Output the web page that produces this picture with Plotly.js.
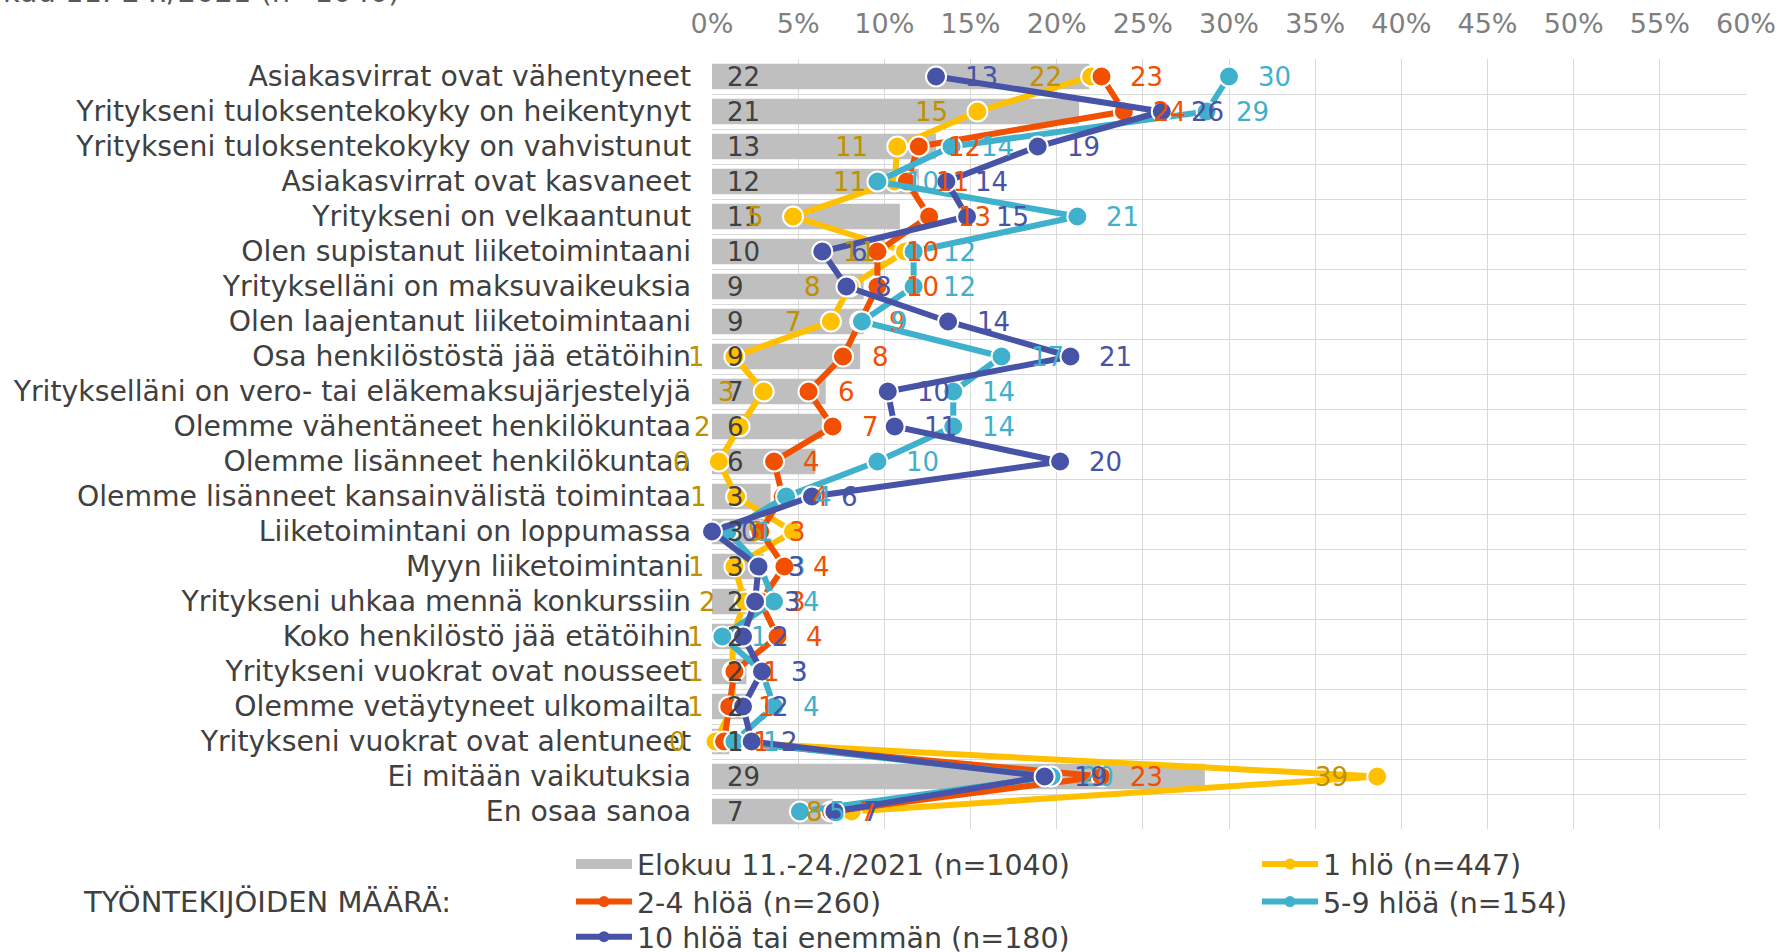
<!DOCTYPE html>
<html><head><meta charset="utf-8">
<script src="https://cdn.plot.ly/plotly-3.0.1.min.js"></script>
<style>html,body{margin:0;padding:0;background:#fff}#chart{width:1780px;height:952px}</style>
</head><body><div id="chart"></div>
<script>
const categories = [
  "Asiakasvirrat ovat vähentyneet",
  "Yritykseni tuloksentekokyky on heikentynyt",
  "Yritykseni tuloksentekokyky on vahvistunut",
  "Asiakasvirrat ovat kasvaneet",
  "Yritykseni on velkaantunut",
  "Olen supistanut liiketoimintaani",
  "Yritykselläni on maksuvaikeuksia",
  "Olen laajentanut liiketoimintaani",
  "Osa henkilöstöstä jää etätöihin",
  "Yritykselläni on vero- tai eläkemaksujärjestelyjä",
  "Olemme vähentäneet henkilökuntaa",
  "Olemme lisänneet henkilökuntaa",
  "Olemme lisänneet kansainvälistä toimintaa",
  "Liiketoimintani on loppumassa",
  "Myyn liiketoimintani",
  "Yritykseni uhkaa mennä konkurssiin",
  "Koko henkilöstö jää etätöihin",
  "Yritykseni vuokrat ovat nousseet",
  "Olemme vetäytyneet ulkomailta",
  "Yritykseni vuokrat ovat alentuneet",
  "Ei mitään vaikutuksia",
  "En osaa sanoa"
];
const totalName = "Elokuu 11.-24./2021 (n=1040)";
const totalValues = [21.9, 21.3, 13.0, 12.0, 10.9, 10.0, 8.8, 8.8, 8.6, 6.6, 6.4, 6.0, 3.4, 3.0, 3.0, 2.0, 2.0, 2.0, 2.0, 1.0, 28.6, 7.0];
const oneName = "1 hlö (n=447)";
const oneValues = [22.0, 15.4, 10.75, 10.6, 4.7, 11.2, 8.0, 6.9, 1.3, 3.0, 1.6, 0.4, 1.4, 4.7, 1.3, 1.9, 1.2, 1.2, 1.2, 0.2, 38.6, 8.1];
const twoName = "2-4 hlöä (n=260)";
const twoValues = [22.6, 23.9, 12.0, 11.3, 12.6, 9.6, 9.6, 8.6, 7.6, 5.6, 7.0, 3.6, 4.1, 2.8, 4.2, 2.8, 3.8, 1.3, 1.0, 0.7, 22.6, 6.9];
const fiveName = "5-9 hlöä (n=154)";
const fiveValues = [30.0, 28.7, 13.9, 9.6, 21.2, 11.7, 11.7, 8.7, 16.8, 14.0, 14.0, 9.6, 4.3, 0.9, 2.8, 3.6, 0.6, 2.9, 3.6, 1.3, 19.7, 5.1];
const tenName = "10 hlöä tai enemmän (n=180)";
const tenValues = [13.0, 26.1, 18.9, 13.6, 14.8, 6.4, 7.8, 13.7, 20.8, 10.2, 10.6, 20.2, 5.8, 0.0, 2.7, 2.5, 1.8, 2.9, 1.8, 2.3, 19.3, 7.1];
const groupLabel = "TYÖNTEKIJÖIDEN MÄÄRÄ:";

const FONT = "DejaVu Sans, Verdana, sans-serif";
const series = [
  {name: oneName, values: oneValues, color: "#FFC000", labelColor: "#BF9000", side: "left", legend: "legend"},
  {name: twoName, values: twoValues, color: "#F05000", labelColor: "#F05000", side: "right", legend: "legend2"},
  {name: fiveName, values: fiveValues, color: "#3FB1CC", labelColor: "#3FB1CC", side: "right", legend: "legend2"},
  {name: tenName, values: tenValues, color: "#4753A6", labelColor: "#4753A6", side: "right", legend: "legend3"}
];

const traces = [];
traces.push({
  type: "bar", orientation: "h", x: totalValues, y: categories,
  marker: {color: "#BFBFBF"}, showlegend: false, hoverinfo: "skip"
});
series.forEach(s => {
  traces.push({
    type: "scatter", mode: "lines+markers", x: s.values, y: categories,
    line: {color: s.color, width: 6},
    marker: {color: s.color, size: 20, line: {color: "#FFFFFF", width: 2}},
    cliponaxis: false, showlegend: false, hoverinfo: "skip"
  });
});
// legend entries
traces.push({type: "scatter", mode: "lines", x: [null], y: [null], name: totalName,
  line: {color: "#BFBFBF", width: 13}, showlegend: true, legend: "legend", hoverinfo: "skip"});
series.forEach(s => {
  traces.push({type: "scatter", mode: "lines+markers", x: [null], y: [null], name: s.name,
    line: {color: s.color, width: 6}, marker: {color: s.color, size: 11},
    showlegend: true, legend: s.legend, hoverinfo: "skip"});
});

const annotations = [];
totalValues.forEach((v, i) => {
  annotations.push({x: 0, y: categories[i], xref: "x", yref: "y", text: String(Math.round(v)),
    showarrow: false, xanchor: "left", xshift: 13, font: {family: FONT, size: 26, color: "#404040"}});
});
series.forEach(s => {
  s.values.forEach((v, i) => {
    annotations.push({x: v, y: categories[i], xref: "x", yref: "y", text: String(Math.round(v)),
      showarrow: false, xanchor: s.side === "left" ? "right" : "left",
      xshift: s.side === "left" ? -27 : 27,
      font: {family: FONT, size: 26, color: s.labelColor}});
  });
});
annotations.push({xref: "paper", yref: "paper", x: -0.2998, y: 1.062, xanchor: "right", yanchor: "bottom",
  text: totalName, showarrow: false, font: {family: FONT, size: 29, color: "#595959"}});
annotations.push({xref: "paper", yref: "paper", x: -0.6103, y: -0.0948, xanchor: "left", yanchor: "middle",
  text: groupLabel, showarrow: false, font: {family: FONT, size: 29, color: "#404040"}});

function legendBox(y) {
  return {orientation: "h", x: -0.1364, xanchor: "left", y: y, yanchor: "top",
    entrywidth: 615, entrywidthmode: "pixels", itemwidth: 56, traceorder: "normal",
    font: {family: FONT, size: 28.5, color: "#404040"}, bgcolor: "rgba(0,0,0,0)"};
}

const layout = {
  width: 1780, height: 952,
  margin: {l: 712, r: 34, t: 59, b: 123, autoexpand: false},
  paper_bgcolor: "#FFFFFF", plot_bgcolor: "#FFFFFF",
  font: {family: FONT, color: "#404040"},
  barmode: "overlay", bargap: 0.27,
  xaxis: {side: "top", range: [0, 60], tick0: 0, dtick: 5, ticksuffix: "%",
    showgrid: true, gridcolor: "#D9D9D9", gridwidth: 1, zeroline: false, showline: false,
    ticks: "outside", ticklen: 14, tickcolor: "rgba(0,0,0,0)",
    tickfont: {family: FONT, size: 27, color: "#7F7F7F"}, fixedrange: true},
  yaxis: {type: "category", range: [21.5, -0.5], autorange: false,
    categoryorder: "array", categoryarray: categories,
    tickmode: "linear", tick0: 0, dtick: 1,
    tickson: "boundaries", showgrid: true, gridcolor: "#D9D9D9", gridwidth: 1,
    ticks: "", ticklabelstandoff: 20, zeroline: false, showline: false,
    tickfont: {family: FONT, size: 28.3, color: "#404040"}, fixedrange: true},
  legend: legendBox(-0.013),
  legend2: legendBox(-0.0617),
  legend3: legendBox(-0.1074),
  showlegend: true,
  annotations: annotations
};

Plotly.newPlot("chart", traces, layout, {displayModeBar: false, staticPlot: true});
</script>
</body></html>
